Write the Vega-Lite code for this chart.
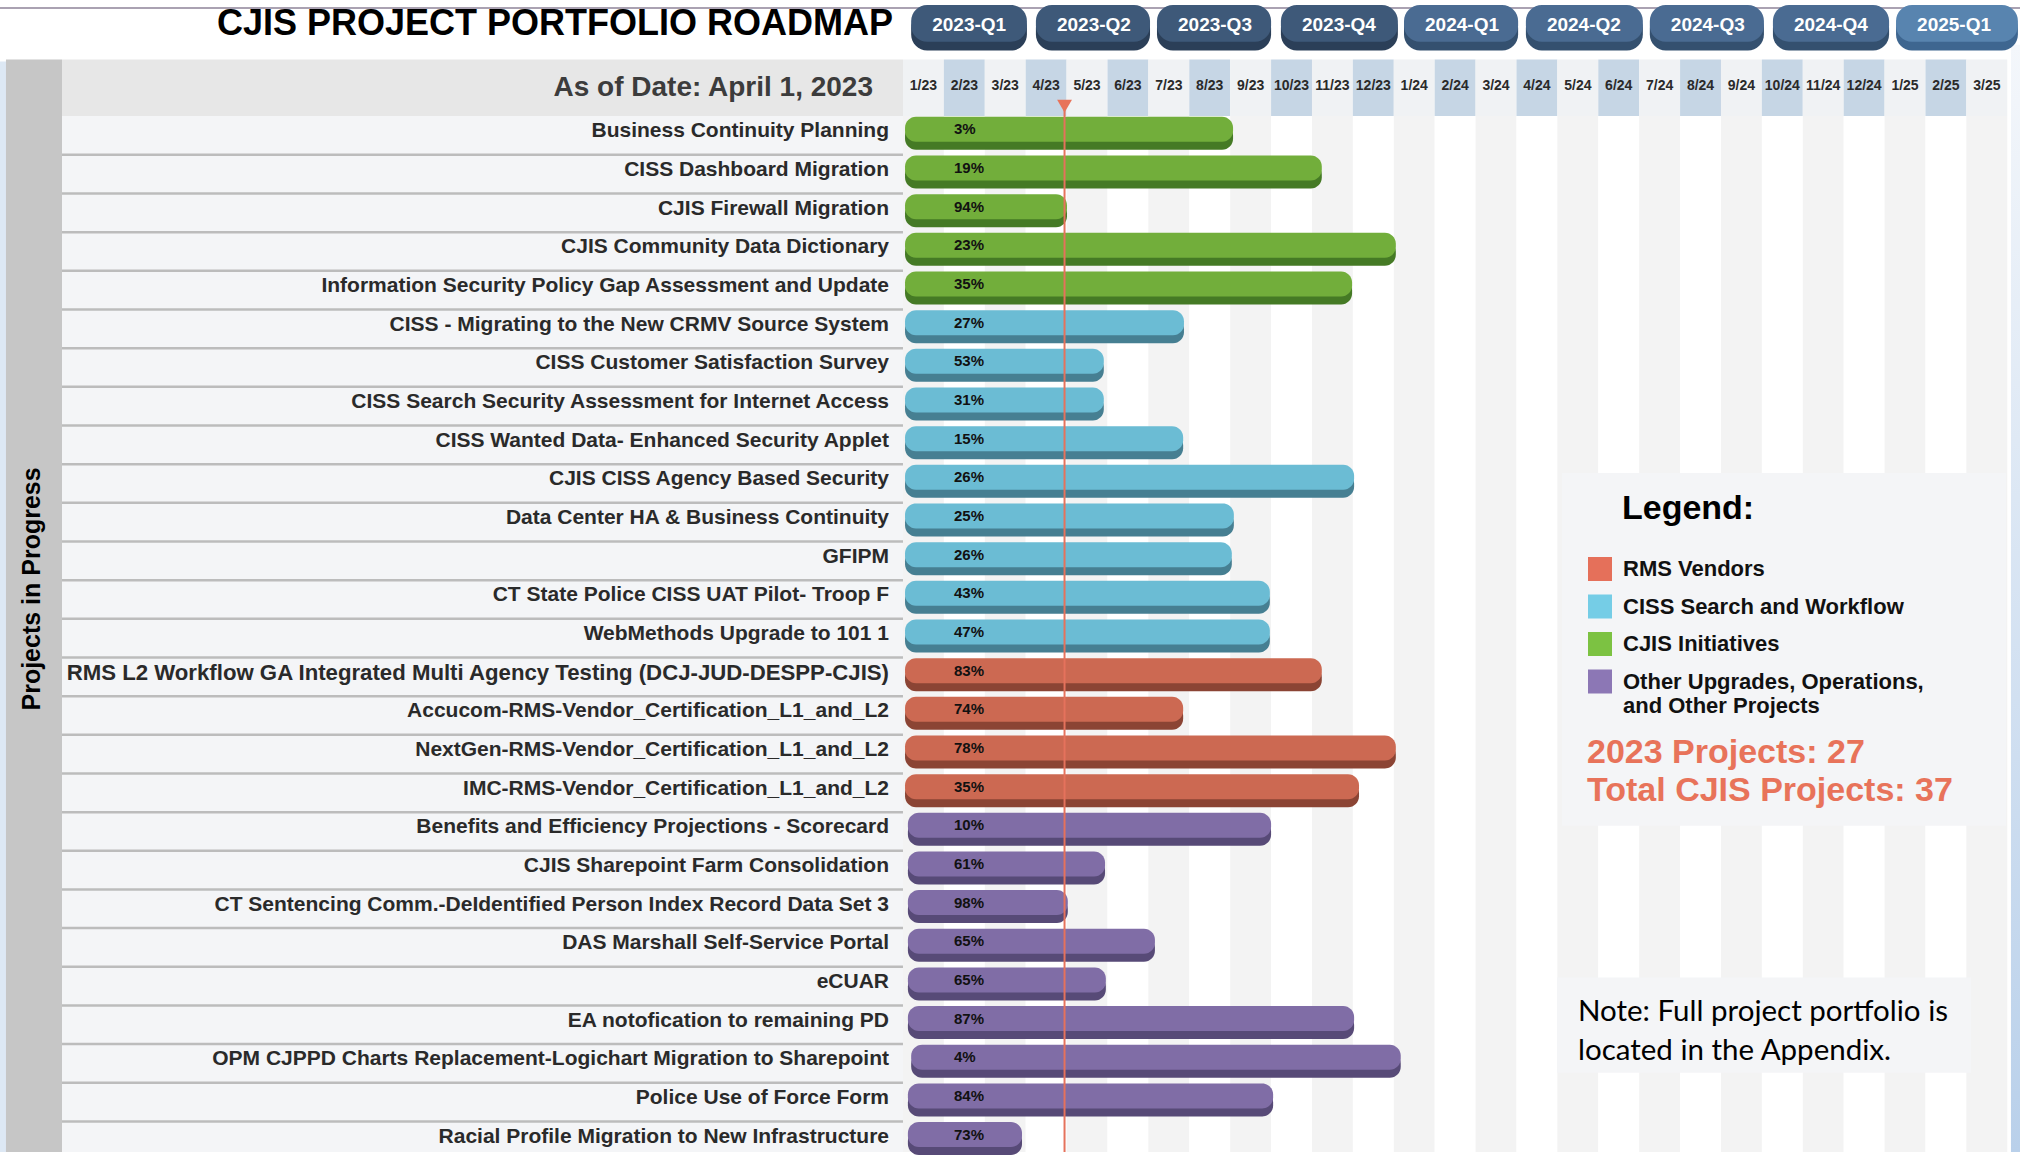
{
  "$schema": "https://vega.github.io/schema/vega-lite/v6.json",
  "width": 2020,
  "height": 1157,
  "autosize": {"type": "none"},
  "padding": 0,
  "background": "#ffffff",
  "config": {"view": {"stroke": null}, "axis": {"disable": true}, "font": "Liberation Sans"},
  "resolve": {"scale": {"color": "independent"}},
  "datasets": {
    "projects": [
      {"row": 1, "project": "Business Continuity Planning", "category": "CJIS Initiatives", "start": 0.05, "end": 8.07, "pct": 0.03},
      {"row": 2, "project": "CISS Dashboard Migration", "category": "CJIS Initiatives", "start": 0.05, "end": 10.24, "pct": 0.19},
      {"row": 3, "project": "CJIS Firewall Migration", "category": "CJIS Initiatives", "start": 0.05, "end": 4.01, "pct": 0.94},
      {"row": 4, "project": "CJIS Community Data Dictionary", "category": "CJIS Initiatives", "start": 0.05, "end": 12.05, "pct": 0.23},
      {"row": 5, "project": "Information Security Policy Gap Assessment and Update", "category": "CJIS Initiatives", "start": 0.05, "end": 10.98, "pct": 0.35},
      {"row": 6, "project": "CISS - Migrating to the New CRMV Source System", "category": "CISS Search and Workflow", "start": 0.05, "end": 6.87, "pct": 0.27},
      {"row": 7, "project": "CISS Customer Satisfaction Survey", "category": "CISS Search and Workflow", "start": 0.05, "end": 4.91, "pct": 0.53},
      {"row": 8, "project": "CISS Search Security Assessment for Internet Access", "category": "CISS Search and Workflow", "start": 0.05, "end": 4.91, "pct": 0.31},
      {"row": 9, "project": "CISS Wanted Data- Enhanced Security Applet", "category": "CISS Search and Workflow", "start": 0.05, "end": 6.85, "pct": 0.15},
      {"row": 10, "project": "CJIS CISS Agency Based Security", "category": "CISS Search and Workflow", "start": 0.05, "end": 11.03, "pct": 0.26},
      {"row": 11, "project": "Data Center HA & Business Continuity", "category": "CISS Search and Workflow", "start": 0.05, "end": 8.09, "pct": 0.25},
      {"row": 12, "project": "GFIPM", "category": "CISS Search and Workflow", "start": 0.05, "end": 8.04, "pct": 0.26},
      {"row": 13, "project": "CT State Police CISS UAT Pilot- Troop F", "category": "CISS Search and Workflow", "start": 0.05, "end": 8.97, "pct": 0.43},
      {"row": 14, "project": "WebMethods Upgrade to 101 1", "category": "CISS Search and Workflow", "start": 0.05, "end": 8.97, "pct": 0.47},
      {"row": 15, "project": "RMS L2 Workflow GA Integrated Multi Agency Testing (DCJ-JUD-DESPP-CJIS)", "category": "RMS Vendors", "start": 0.05, "end": 10.24, "pct": 0.83},
      {"row": 16, "project": "Accucom-RMS-Vendor_Certification_L1_and_L2", "category": "RMS Vendors", "start": 0.05, "end": 6.85, "pct": 0.74},
      {"row": 17, "project": "NextGen-RMS-Vendor_Certification_L1_and_L2", "category": "RMS Vendors", "start": 0.05, "end": 12.05, "pct": 0.78},
      {"row": 18, "project": "IMC-RMS-Vendor_Certification_L1_and_L2", "category": "RMS Vendors", "start": 0.05, "end": 11.15, "pct": 0.35},
      {"row": 19, "project": "Benefits and Efficiency Projections - Scorecard", "category": "Other Upgrades, Operations, and Other Projects", "start": 0.12, "end": 9.0, "pct": 0.10},
      {"row": 20, "project": "CJIS Sharepoint Farm Consolidation", "category": "Other Upgrades, Operations, and Other Projects", "start": 0.12, "end": 4.94, "pct": 0.61},
      {"row": 21, "project": "CT Sentencing Comm.-DeIdentified Person Index Record Data Set 3", "category": "Other Upgrades, Operations, and Other Projects", "start": 0.12, "end": 4.03, "pct": 0.98},
      {"row": 22, "project": "DAS Marshall Self-Service Portal", "category": "Other Upgrades, Operations, and Other Projects", "start": 0.12, "end": 6.16, "pct": 0.65},
      {"row": 23, "project": "eCUAR", "category": "Other Upgrades, Operations, and Other Projects", "start": 0.12, "end": 4.96, "pct": 0.65},
      {"row": 24, "project": "EA notofication to remaining PD", "category": "Other Upgrades, Operations, and Other Projects", "start": 0.12, "end": 11.03, "pct": 0.87},
      {"row": 25, "project": "OPM CJPPD Charts Replacement-Logichart Migration to Sharepoint", "category": "Other Upgrades, Operations, and Other Projects", "start": 0.2, "end": 12.17, "pct": 0.04},
      {"row": 26, "project": "Police Use of Force Form", "category": "Other Upgrades, Operations, and Other Projects", "start": 0.12, "end": 9.05, "pct": 0.84},
      {"row": 27, "project": "Racial Profile Migration to New Infrastructure", "category": "Other Upgrades, Operations, and Other Projects", "start": 0.12, "end": 2.91, "pct": 0.73}
    ],
    "months": [
      {"label": "1/23", "start": 0, "end": 1}, {"label": "2/23", "start": 1, "end": 2}, {"label": "3/23", "start": 2, "end": 3},
      {"label": "4/23", "start": 3, "end": 4}, {"label": "5/23", "start": 4, "end": 5}, {"label": "6/23", "start": 5, "end": 6},
      {"label": "7/23", "start": 6, "end": 7}, {"label": "8/23", "start": 7, "end": 8}, {"label": "9/23", "start": 8, "end": 9},
      {"label": "10/23", "start": 9, "end": 10}, {"label": "11/23", "start": 10, "end": 11}, {"label": "12/23", "start": 11, "end": 12},
      {"label": "1/24", "start": 12, "end": 13}, {"label": "2/24", "start": 13, "end": 14}, {"label": "3/24", "start": 14, "end": 15},
      {"label": "4/24", "start": 15, "end": 16}, {"label": "5/24", "start": 16, "end": 17}, {"label": "6/24", "start": 17, "end": 18},
      {"label": "7/24", "start": 18, "end": 19}, {"label": "8/24", "start": 19, "end": 20}, {"label": "9/24", "start": 20, "end": 21},
      {"label": "10/24", "start": 21, "end": 22}, {"label": "11/24", "start": 22, "end": 23}, {"label": "12/24", "start": 23, "end": 24},
      {"label": "1/25", "start": 24, "end": 25}, {"label": "2/25", "start": 25, "end": 26}, {"label": "3/25", "start": 26, "end": 27}
    ],
    "quarters": [
      {"q": "2023-Q1", "year": "2023", "start": 0.2, "end": 3.03},
      {"q": "2023-Q2", "year": "2023", "start": 3.25, "end": 6.04},
      {"q": "2023-Q3", "year": "2023", "start": 6.21, "end": 9.0},
      {"q": "2023-Q4", "year": "2023", "start": 9.24, "end": 12.1},
      {"q": "2024-Q1", "year": "2024", "start": 12.25, "end": 15.04},
      {"q": "2024-Q2", "year": "2024", "start": 15.23, "end": 18.09},
      {"q": "2024-Q3", "year": "2024", "start": 18.26, "end": 21.05},
      {"q": "2024-Q4", "year": "2024", "start": 21.27, "end": 24.11},
      {"q": "2025-Q1", "year": "2025", "start": 24.28, "end": 27.26}
    ]
  },
  "data": {"values": [{}]},
  "layer": [
    {
      "mark": {"type": "rect", "color": "#dde8f4"},
      "encoding": {
        "x": {"datum": -22.078, "type": "quantitative", "scale": {"domain": [-22.078, 27.311], "nice": false, "zero": false}},
        "x2": {"datum": -21.932},
        "y": {"datum": -0.9103, "type": "quantitative", "scale": {"domain": [-2.3718, 27.2949], "reverse": true, "nice": false, "zero": false}},
        "y2": {"datum": 27.2949}
      }
    },
    {
      "mark": {"type": "rect", "color": {"gradient": "linear", "x1": 0, "y1": 0, "x2": 0, "y2": 1, "stops": [{"offset": 0, "color": "#f4f7fb"}, {"offset": 1, "color": "#b9d0ea"}]}},
      "encoding": {
        "x": {"datum": 27.09, "type": "quantitative"}, "x2": {"datum": 27.311},
        "y": {"datum": -1.3462, "type": "quantitative"}, "y2": {"datum": 27.2949}
      }
    },
    {
      "mark": {"type": "rule", "color": "#aaa2b2", "strokeWidth": 2},
      "encoding": {
        "x": {"datum": -22.078, "type": "quantitative"}, "x2": {"datum": 27.311},
        "y": {"datum": -2.2949, "type": "quantitative"}
      }
    },
    {
      "data": {"name": "months"},
      "mark": {"type": "rect"},
      "encoding": {
        "x": {"field": "start", "type": "quantitative"}, "x2": {"field": "end"},
        "y": {"datum": 0.5, "type": "quantitative"}, "y2": {"datum": 27.2949},
        "color": {"condition": {"test": "datum.start % 2 == 1", "value": "#ffffff"}, "value": "#f3f3f3"}
      }
    },
    {
      "data": {"name": "months"},
      "mark": {"type": "rect"},
      "encoding": {
        "x": {"field": "start", "type": "quantitative"}, "x2": {"field": "end"},
        "y": {"datum": -0.9615, "type": "quantitative"}, "y2": {"datum": 0.5},
        "color": {"condition": {"test": "datum.start % 2 == 1", "value": "#c6d6e5"}, "value": "#f0f2f4"}
      }
    },
    {
      "data": {"name": "months"},
      "mark": {"type": "text", "fontSize": 14, "fontWeight": "bold", "color": "#2a2a2a", "align": "center", "baseline": "middle", "dx": 20.45},
      "encoding": {
        "x": {"field": "start", "type": "quantitative"},
        "y": {"datum": -0.2692, "type": "quantitative"},
        "text": {"field": "label"}
      }
    },
    {
      "mark": {"type": "rect", "color": "#c6c6c6"},
      "encoding": {
        "x": {"datum": -21.932, "type": "quantitative"}, "x2": {"datum": -20.562},
        "y": {"datum": -0.9615, "type": "quantitative"}, "y2": {"datum": 27.2949}
      }
    },
    {
      "mark": {"type": "rect", "color": "#e7e7e7"},
      "encoding": {
        "x": {"datum": -20.562, "type": "quantitative"}, "x2": {"datum": 0},
        "y": {"datum": -0.9615, "type": "quantitative"}, "y2": {"datum": 0.5}
      }
    },
    {
      "mark": {"type": "rect", "color": "#f4f5f7"},
      "encoding": {
        "x": {"datum": -20.562, "type": "quantitative"}, "x2": {"datum": 0},
        "y": {"datum": 0.5, "type": "quantitative"}, "y2": {"datum": 27.2949}
      }
    },
    {
      "data": {"name": "projects"},
      "mark": {"type": "rule", "color": "#bcbcbc", "strokeWidth": 2.5, "yOffset": 19.5},
      "encoding": {
        "x": {"datum": -20.562, "type": "quantitative"}, "x2": {"datum": 0},
        "y": {"field": "row", "type": "quantitative"}
      }
    },
    {
      "mark": {"type": "text", "angle": 270, "fontSize": 25, "fontWeight": "bold", "color": "#000000", "align": "center", "baseline": "middle"},
      "encoding": {
        "x": {"datum": -21.296, "type": "quantitative"},
        "y": {"datum": 12.731, "type": "quantitative"},
        "text": {"value": "Projects in Progress"}
      }
    },
    {
      "mark": {"type": "text", "fontSize": 28, "fontWeight": "bold", "color": "#3c3c3c", "align": "right", "baseline": "middle"},
      "encoding": {
        "x": {"datum": -0.733, "type": "quantitative"},
        "y": {"datum": -0.218, "type": "quantitative"},
        "text": {"value": "As of Date: April 1, 2023"}
      }
    },
    {
      "mark": {"type": "text", "fontSize": 36, "fontWeight": "bold", "color": "#000000", "align": "right", "baseline": "middle"},
      "encoding": {
        "x": {"datum": -0.2445, "type": "quantitative"},
        "y": {"datum": -1.8846, "type": "quantitative"},
        "text": {"value": "CJIS PROJECT PORTFOLIO ROADMAP"}
      }
    },
    {
      "data": {"name": "quarters"},
      "mark": {"type": "rect", "cornerRadius": 16},
      "encoding": {
        "x": {"field": "start", "type": "quantitative"}, "x2": {"field": "end"},
        "y": {"datum": -2.1923, "type": "quantitative"}, "y2": {"datum": -1.1923},
        "color": {"field": "year", "type": "nominal", "legend": null, "scale": {"domain": ["2023", "2024", "2025"], "range": ["#2b3f58", "#34506f", "#3e6690"]}}
      }
    },
    {
      "data": {"name": "quarters"},
      "mark": {"type": "rect", "cornerRadius": 16},
      "encoding": {
        "x": {"field": "start", "type": "quantitative"}, "x2": {"field": "end"},
        "y": {"datum": -2.3718, "type": "quantitative"}, "y2": {"datum": -1.4231},
        "color": {"field": "year", "type": "nominal", "legend": null, "scale": {"domain": ["2023", "2024", "2025"], "range": ["#3e5979", "#4a6b92", "#5884af"]}}
      }
    },
    {
      "data": {"name": "quarters"},
      "mark": {"type": "text", "fontSize": 19, "fontWeight": "bold", "color": "#ffffff", "align": "center", "baseline": "middle", "dx": 58},
      "encoding": {
        "x": {"field": "start", "type": "quantitative"},
        "y": {"datum": -1.859, "type": "quantitative"},
        "text": {"field": "q"}
      }
    },
    {
      "mark": {"type": "rect", "color": "#f4f5f7"},
      "encoding": {
        "x": {"datum": 16.112, "type": "quantitative"}, "x2": {"datum": 26.968},
        "y": {"datum": 9.7308, "type": "quantitative"}, "y2": {"datum": 18.859}
      }
    },
    {
      "mark": {"type": "rect", "color": "#f4f5f7"},
      "encoding": {
        "x": {"datum": 15.99, "type": "quantitative"}, "x2": {"datum": 26.112},
        "y": {"datum": 22.782, "type": "quantitative"}, "y2": {"datum": 25.244}
      }
    },
    {
      "data": {"name": "projects"},
      "mark": {"type": "bar", "orient": "horizontal", "height": 25, "yOffset": 2, "cornerRadius": 11},
      "encoding": {
        "x": {"field": "start", "type": "quantitative"}, "x2": {"field": "end"},
        "y": {"field": "row", "type": "quantitative"},
        "color": {"field": "category", "type": "nominal", "legend": null, "scale": {"domain": ["RMS Vendors", "CISS Search and Workflow", "CJIS Initiatives", "Other Upgrades, Operations, and Other Projects"], "range": ["#8b4434", "#467f92", "#457a25", "#574a77"]}}
      }
    },
    {
      "data": {"name": "projects"},
      "mark": {"type": "bar", "orient": "horizontal", "height": 25, "yOffset": -6, "cornerRadius": 11},
      "encoding": {
        "x": {"field": "start", "type": "quantitative"}, "x2": {"field": "end"},
        "y": {"field": "row", "type": "quantitative"},
        "color": {"field": "category", "type": "nominal", "legend": null, "scale": {"domain": ["RMS Vendors", "CISS Search and Workflow", "CJIS Initiatives", "Other Upgrades, Operations, and Other Projects"], "range": ["#cc6952", "#6bbcd4", "#72ae3b", "#806da6"]}}
      }
    },
    {
      "mark": {"type": "rule", "color": "#e5725c", "strokeWidth": 2},
      "encoding": {
        "x": {"datum": 3.95, "type": "quantitative"},
        "y": {"datum": 0.1923, "type": "quantitative"}, "y2": {"datum": 27.2949}
      }
    },
    {
      "mark": {"type": "point", "shape": "triangle-down", "filled": true, "size": 220, "color": "#e8735a", "opacity": 1},
      "encoding": {
        "x": {"datum": 3.95, "type": "quantitative"},
        "y": {"datum": 0.2436, "type": "quantitative"}
      }
    },
    {
      "data": {"name": "projects"},
      "mark": {"type": "text", "fontSize": 15, "fontWeight": "bold", "color": "#111111", "align": "left", "baseline": "middle", "yOffset": -6},
      "encoding": {
        "x": {"datum": 1.247, "type": "quantitative"},
        "y": {"field": "row", "type": "quantitative"},
        "text": {"field": "pct", "type": "quantitative", "format": ".0%"}
      }
    },
    {
      "data": {"name": "projects"},
      "mark": {"type": "text", "fontWeight": "bold", "color": "#2a2a2a", "align": "right", "baseline": "middle", "yOffset": -4},
      "encoding": {
        "x": {"datum": -0.342, "type": "quantitative"},
        "y": {"field": "row", "type": "quantitative"},
        "text": {"field": "project"},
        "size": {"condition": {"test": "datum.row == 15", "value": 22.2}, "value": 21}
      }
    },
    {
      "mark": {"type": "text", "fontSize": 34, "fontWeight": "bold", "color": "#000000", "align": "left", "baseline": "middle"},
      "encoding": {
        "x": {"datum": 17.579, "type": "quantitative"},
        "y": {"datum": 10.654, "type": "quantitative"},
        "text": {"value": "Legend:"}
      }
    },
    {
      "mark": {"type": "text", "fontSize": 34, "fontWeight": "bold", "color": "#e8735a", "align": "left", "baseline": "middle", "lineHeight": 38},
      "encoding": {
        "x": {"datum": 16.724, "type": "quantitative"},
        "y": {"datum": 16.987, "type": "quantitative"},
        "text": {"value": ["2023 Projects: 27", "Total CJIS Projects: 37"]}
      }
    },
    {
      "mark": {"type": "text", "font": "Lato", "fontSize": 29.5, "color": "#000000", "align": "left", "baseline": "middle", "lineHeight": 39},
      "encoding": {
        "x": {"datum": 16.504, "type": "quantitative"},
        "y": {"datum": 23.679, "type": "quantitative"},
        "text": {"value": ["Note: Full project portfolio is", "located in the Appendix."]}
      }
    },
    {
      "data": {"name": "projects"},
      "mark": {"type": "square", "opacity": 0},
      "encoding": {
        "x": {"field": "end", "type": "quantitative"},
        "y": {"field": "row", "type": "quantitative"},
        "color": {
          "field": "category", "type": "nominal",
          "scale": {"domain": ["RMS Vendors", "CISS Search and Workflow", "CJIS Initiatives", "Other Upgrades, Operations, and Other Projects"], "range": ["#e5705a", "#75cde6", "#7cc242", "#8c77b5"]},
          "legend": {
            "orient": "none", "legendX": 1588, "legendY": 557, "direction": "vertical", "title": null,
            "symbolType": "square", "symbolSize": 576, "symbolStrokeWidth": 0, "symbolOpacity": 1,
            "labelFont": "Liberation Sans", "labelFontSize": 22, "labelFontWeight": "bold", "labelColor": "#111111",
            "labelOffset": 11, "labelLimit": 500, "rowPadding": 13.5, "padding": 0,
            "labelExpr": "datum.label == 'Other Upgrades, Operations, and Other Projects' ? ['Other Upgrades, Operations,', 'and Other Projects'] : datum.label"
          }
        }
      }
    }
  ]
}
